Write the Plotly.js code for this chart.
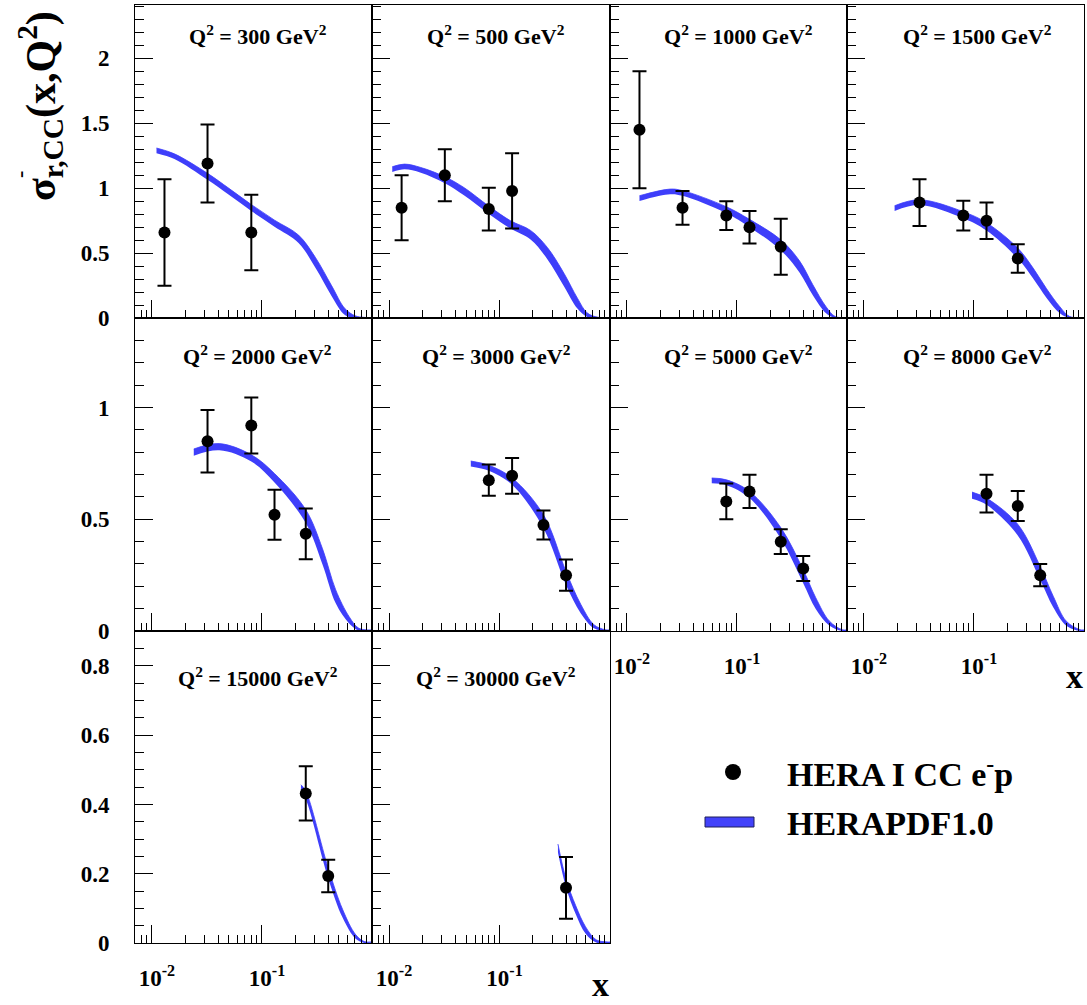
<!DOCTYPE html>
<html><head><meta charset="utf-8">
<script src="https://cdn.plot.ly/plotly-3.0.1.min.js"></script>
<style>html,body{margin:0;padding:0;background:#fff}</style>
</head><body>
<div id="chart" style="width:1087px;height:1005px"></div>
<script>
// ---- data ----
const Q2 = [300, 500, 1000, 1500, 2000, 3000, 5000, 8000, 15000, 30000];

// HERA I CC e-p measurements (x, sigma, total error)
const dataX = [
  [0.013, 0.032, 0.08],
  [0.013, 0.032, 0.08, 0.13],
  [0.013, 0.032, 0.08, 0.13, 0.25],
  [0.032, 0.08, 0.13, 0.25],
  [0.032, 0.08, 0.13, 0.25],
  [0.08, 0.13, 0.25, 0.40],
  [0.08, 0.13, 0.25, 0.40],
  [0.13, 0.25, 0.40],
  [0.25, 0.40],
  [0.40]
];
const dataY = [
  [0.66, 1.19, 0.66],
  [0.85, 1.10, 0.84, 0.98],
  [1.45, 0.85, 0.79, 0.70, 0.55],
  [0.89, 0.79, 0.75, 0.46],
  [0.85, 0.92, 0.52, 0.435],
  [0.675, 0.695, 0.475, 0.25],
  [0.58, 0.625, 0.40, 0.28],
  [0.615, 0.56, 0.25],
  [0.432, 0.194],
  [0.16]
];
const dataErr = [
  [0.41, 0.30, 0.29],
  [0.25, 0.20, 0.165, 0.29],
  [0.45, 0.13, 0.11, 0.125, 0.215],
  [0.18, 0.115, 0.14, 0.11],
  [0.14, 0.125, 0.112, 0.114],
  [0.07, 0.08, 0.065, 0.07],
  [0.08, 0.074, 0.055, 0.056],
  [0.085, 0.067, 0.05],
  [0.078, 0.047],
  [0.089]
];

// HERAPDF1.0 band: x nodes, central value, half width
const bandX = [
  [0.011, 0.016, 0.032, 0.05, 0.08, 0.13, 0.215, 0.305, 0.43, 0.567, 0.70, 0.85, 1.0],
  [0.0107, 0.0138, 0.0194, 0.032, 0.048, 0.08, 0.126, 0.191, 0.271, 0.384, 0.507, 0.624, 0.78, 1.0],
  [0.013, 0.0247, 0.032, 0.08, 0.13, 0.25, 0.37, 0.489, 0.645, 0.78, 1.0],
  [0.019, 0.032, 0.08, 0.13, 0.25, 0.345, 0.457, 0.603, 0.74, 1.0],
  [0.024, 0.041, 0.08, 0.13, 0.25, 0.355, 0.468, 0.62, 0.76, 1.0],
  [0.055, 0.08, 0.13, 0.25, 0.40, 0.543, 0.716, 0.9, 1.0],
  [0.059, 0.08, 0.13, 0.25, 0.40, 0.52, 0.69, 0.9, 1.0],
  [0.096, 0.13, 0.25, 0.40, 0.525, 0.69, 0.92, 1.0],
  [0.226, 0.25, 0.40, 0.54, 0.71, 0.85, 1.0],
  [0.338, 0.40, 0.49, 0.60, 0.75, 0.94, 1.0]
];
const bandC = [
  [1.29, 1.245, 1.09, 0.975, 0.85, 0.73, 0.61, 0.43, 0.21, 0.05, 0.01, 0.003, 0.002],
  [1.146, 1.166, 1.14, 1.064, 0.974, 0.833, 0.72, 0.641, 0.50, 0.295, 0.115, 0.025, 0.004, 0.002],
  [0.923, 0.974, 0.962, 0.833, 0.731, 0.564, 0.397, 0.218, 0.064, 0.008, 0.002],
  [0.846, 0.892, 0.795, 0.705, 0.50, 0.346, 0.192, 0.064, 0.008, 0.002],
  [0.80, 0.824, 0.774, 0.685, 0.513, 0.333, 0.154, 0.049, 0.007, 0.002],
  [0.749, 0.73, 0.67, 0.49, 0.236, 0.10, 0.02, 0.003, 0.002],
  [0.673, 0.665, 0.61, 0.438, 0.244, 0.124, 0.035, 0.003, 0.002],
  [0.607, 0.58, 0.453, 0.259, 0.131, 0.034, 0.003, 0.002],
  [0.447, 0.427, 0.202, 0.086, 0.019, 0.003, 0.002],
  [0.274, 0.173, 0.096, 0.038, 0.006, 0.002, 0.002]
];
const bandHW = [
  [0.02, 0.02, 0.025, 0.025, 0.025, 0.025, 0.03, 0.04, 0.04, 0.025, 0.01, 0.004, 0.004],
  [0.02, 0.02, 0.02, 0.025, 0.03, 0.03, 0.03, 0.035, 0.045, 0.05, 0.04, 0.015, 0.004, 0.004],
  [0.02, 0.02, 0.02, 0.025, 0.03, 0.04, 0.045, 0.04, 0.025, 0.006, 0.004],
  [0.02, 0.02, 0.025, 0.03, 0.04, 0.04, 0.035, 0.025, 0.006, 0.004],
  [0.015, 0.015, 0.015, 0.02, 0.03, 0.035, 0.03, 0.015, 0.005, 0.003],
  [0.012, 0.012, 0.015, 0.03, 0.03, 0.02, 0.008, 0.003, 0.003],
  [0.012, 0.012, 0.015, 0.025, 0.03, 0.025, 0.01, 0.003, 0.003],
  [0.015, 0.015, 0.025, 0.03, 0.025, 0.01, 0.003, 0.003],
  [0.01, 0.012, 0.015, 0.012, 0.006, 0.002, 0.002],
  [0.012, 0.012, 0.012, 0.01, 0.004, 0.002, 0.002]
];

const xTickVals = [0.01, 0.1];
const xTickText = ['10<sup>-2</sup>', '10<sup>-1</sup>'];
const xMinorVals = [0.007, 0.008, 0.009, 0.02, 0.03, 0.04, 0.05, 0.06, 0.07, 0.08, 0.09,
                    0.2, 0.3, 0.4, 0.5, 0.6, 0.7, 0.8, 0.9];

// ---- layout geometry ----
const W = 1087, H = 1005;
const colEdges = [135, 372, 610, 847, 1084];
const rowEdges = [5, 318.3, 631, 943.3];
const rowYRange = [[0, 2.41], [0, 1.4], [0, 0.9]];
const rowDtick = [0.5, 0.5, 0.2];
const rowMinor = [0.1, 0.1, 0.05];
const titleY = [35, 355, 677];
const titleDX = [4, 5, 10, 12];
const FONT = 'Liberation Serif';
const BLUE = 'rgb(62,62,250)';

const traces = [];
const layout = {
  width: W, height: H,
  margin: {l: 0, r: 0, t: 0, b: 0},
  paper_bgcolor: 'white', plot_bgcolor: 'white',
  showlegend: false,
  font: {family: FONT, color: 'black', size: 22, weight: 'bold'},
  annotations: [], shapes: []
};

for (let i = 0; i < Q2.length; i++) {
  const row = i < 4 ? 0 : (i < 8 ? 1 : 2);
  const col = i % 4;
  const n = i === 0 ? '' : String(i + 1);
  const xa = 'x' + n, ya = 'y' + n;

  const lo = bandC[i].map((v, k) => v - bandHW[i][k]);
  const hi = bandC[i].map((v, k) => v + bandHW[i][k]);
  traces.push({x: bandX[i], y: lo, xaxis: xa, yaxis: ya, mode: 'lines',
    line: {width: 0, shape: 'spline', color: BLUE}, hoverinfo: 'skip'});
  traces.push({x: bandX[i], y: hi, xaxis: xa, yaxis: ya, mode: 'lines',
    line: {width: 0.8, shape: 'spline', color: BLUE}, fill: 'tonexty', fillcolor: BLUE});
  traces.push({x: dataX[i], y: dataY[i], xaxis: xa, yaxis: ya, mode: 'markers',
    marker: {color: 'black', size: 12},
    error_y: {type: 'data', array: dataErr[i], visible: true, color: 'black', thickness: 2, width: 7}});

  const showX = (row === 2) || (row === 1 && col >= 2);
  layout['xaxis' + n] = {
    type: 'log', range: [-2.154, 0],
    domain: [colEdges[col] / W, colEdges[col + 1] / W],
    anchor: ya,
    tickmode: 'array', tickvals: xTickVals, ticktext: xTickText,
    ticks: 'inside', ticklen: 18, tickwidth: 1, tickcolor: 'black',
    minor: {ticks: 'inside', ticklen: 8, tickwidth: 1, tickcolor: 'black', tickvals: xMinorVals, showgrid: false},
    showticklabels: showX, ticklabelstandoff: 14, ticklabelshift: 5,
    tickfont: {family: FONT, size: 23, weight: 'bold', color: 'black'},
    showline: true, mirror: true, linecolor: 'black', linewidth: 1,
    showgrid: false, zeroline: false, fixedrange: true
  };
  layout['yaxis' + n] = {
    range: rowYRange[row],
    domain: [1 - rowEdges[row + 1] / H, 1 - rowEdges[row] / H],
    anchor: xa,
    tickmode: 'linear', tick0: 0, dtick: rowDtick[row],
    ticks: 'inside', ticklen: 18, tickwidth: 1, tickcolor: 'black',
    minor: {ticks: 'inside', ticklen: 9, tickwidth: 1, tickcolor: 'black', dtick: rowMinor[row], tick0: 0, showgrid: false},
    showticklabels: col === 0, ticklabelstandoff: 20,
    tickfont: {family: FONT, size: 23, weight: 'bold', color: 'black'},
    showline: true, mirror: true, linecolor: 'black', linewidth: 1,
    showgrid: false, zeroline: false, fixedrange: true
  };

  const cx = (colEdges[col] + colEdges[col + 1]) / 2 + titleDX[col];
  layout.annotations.push({
    xref: 'paper', yref: 'paper', x: cx / W, y: 1 - titleY[row] / H,
    xanchor: 'center', yanchor: 'middle', showarrow: false,
    text: 'Q<sup>2</sup> = ' + Q2[i] + ' GeV<sup>2</sup>',
    font: {family: FONT, size: 22, weight: 'bold', color: 'black'}
  });
}

// axis titles
layout.annotations.push({xref: 'paper', yref: 'paper', x: 40 / W, y: 1 - 106 / H,
  xanchor: 'center', yanchor: 'middle', showarrow: false, textangle: -90,
  text: 'σ<sub>r,CC</sub>(x,Q<sup>2</sup>)',
  font: {family: FONT, size: 42, weight: 'bold', color: 'black'}});
layout.annotations.push({xref: 'paper', yref: 'paper', x: 20 / W, y: 1 - 175 / H,
  xanchor: 'center', yanchor: 'middle', showarrow: false, textangle: -90,
  text: '-', font: {family: FONT, size: 22, weight: 'bold', color: 'black'}});
layout.annotations.push({xref: 'paper', yref: 'paper', x: 1074 / W, y: 1 - 676 / H,
  xanchor: 'center', yanchor: 'middle', showarrow: false, text: 'x',
  font: {family: FONT, size: 34, weight: 'bold', color: 'black'}});
layout.annotations.push({xref: 'paper', yref: 'paper', x: 600 / W, y: 1 - 984 / H,
  xanchor: 'center', yanchor: 'middle', showarrow: false, text: 'x',
  font: {family: FONT, size: 34, weight: 'bold', color: 'black'}});

// legend
layout.shapes.push({type: 'circle', xref: 'paper', yref: 'paper',
  xsizemode: 'pixel', ysizemode: 'pixel', xanchor: 733 / W, yanchor: 1 - 772 / H,
  x0: -8, x1: 8, y0: -8, y1: 8, fillcolor: 'black', line: {width: 0}});
layout.shapes.push({type: 'rect', xref: 'paper', yref: 'paper',
  x0: 705 / W, x1: 754 / W, y0: 1 - 827 / H, y1: 1 - 817 / H,
  fillcolor: 'rgb(66,66,250)', line: {color: 'rgb(30,30,90)', width: 1}});
layout.annotations.push({xref: 'paper', yref: 'paper', x: 785 / W, y: 1 - 772 / H,
  xanchor: 'left', yanchor: 'middle', showarrow: false, text: 'HERA I CC e<sup>-</sup>p',
  font: {family: FONT, size: 34, weight: 'bold', color: 'black'}});
layout.annotations.push({xref: 'paper', yref: 'paper', x: 785 / W, y: 1 - 823 / H,
  xanchor: 'left', yanchor: 'middle', showarrow: false, text: 'HERAPDF1.0',
  font: {family: FONT, size: 34, weight: 'bold', color: 'black'}});

Plotly.newPlot('chart', traces, layout, {staticPlot: true, displayModeBar: false});
</script>
</body></html>
